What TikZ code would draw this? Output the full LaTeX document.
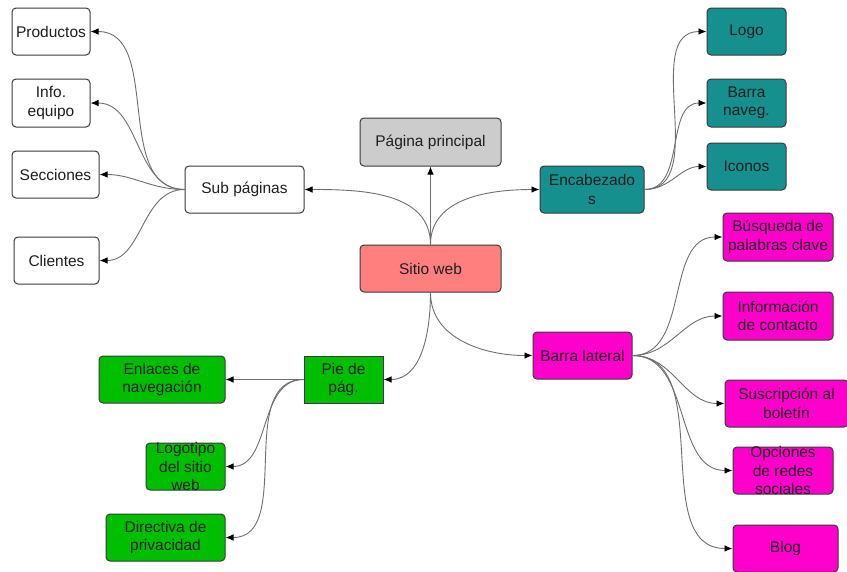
\documentclass[tikz,border=0pt]{standalone}
\usepackage{fontspec}
\setmainfont{Liberation Sans}
\usetikzlibrary{arrows.meta}
\definecolor{cgray}{HTML}{CCCCCC}
\definecolor{csalmon}{HTML}{FF7F7F}
\definecolor{cteal}{HTML}{15908F}
\definecolor{cmag}{HTML}{FF00CC}
\definecolor{cgreen}{HTML}{00BF00}
\definecolor{cline}{HTML}{6E6E6E}
\definecolor{cborder}{HTML}{3A3A3A}
\definecolor{ctext}{HTML}{1E1E1E}
\begin{document}
\begin{tikzpicture}[x=1pt,y=-1pt,
  box/.style={draw=cborder, line width=1pt, rounded corners=4pt, align=center,
    inner sep=1pt, text=ctext, font=\fontsize{15.5}{18.5}\selectfont},
  wbox/.style={box, fill=white},
  conn/.style={draw=cline, line width=0.9pt, -{Latex[length=8pt,width=6.5pt,color=black]}}
]
\useasboundingbox (0,0) rectangle (847,571);
% center
\node[box, fill=csalmon, minimum width=141pt, minimum height=47pt] (sitio) at (430.5,268.5) {Sitio web};
\node[box, fill=cgray, minimum width=141pt, minimum height=48pt] (pag) at (430.5,142) {Página principal};
% left
\node[wbox, minimum width=119pt, minimum height=47pt] (sub) at (244.5,189.5) {Sub páginas};
\node[wbox, minimum width=78pt, minimum height=47pt] (prod) at (51,31.5) {Productos};
\node[wbox, minimum width=78pt, minimum height=48pt] (info) at (51,103) {Info.\\equipo};
\node[wbox, minimum width=87pt, minimum height=47pt] (secc) at (55.5,174.5) {Secciones};
\node[wbox, minimum width=85pt, minimum height=47pt] (clie) at (56.5,260.5) {Clientes};
% header
\node[box, fill=cteal, minimum width=104pt, minimum height=47pt] (enc) at (592,189.5) {Encabezado\\s};
\node[box, fill=cteal, minimum width=79pt, minimum height=47pt] (logo) at (746.5,31.5) {Logo};
\node[box, fill=cteal, minimum width=79pt, minimum height=48pt] (barra) at (746.5,103) {Barra\\naveg.};
\node[box, fill=cteal, minimum width=79pt, minimum height=47pt] (icon) at (746.5,166.5) {Iconos};
% sidebar
\node[box, fill=cmag, minimum width=99pt, minimum height=47pt] (bl) at (582.5,355.5) {Barra lateral};
\node[box, fill=cmag, minimum width=110pt, minimum height=48pt] (busq) at (778,237) {Búsqueda de\\palabras clave};
\node[box, fill=cmag, minimum width=110pt, minimum height=48pt] (infoc) at (778,316) {Información\\de contacto};
\node[box, fill=cmag, minimum width=123pt, minimum height=47pt] (susc) at (786.5,403.5) {Suscripción al\\boletín};
\node[box, fill=cmag, minimum width=100pt, minimum height=47pt] (opc) at (783,470.5) {};
\node[text=ctext, font=\fontsize{15.5}{18.5}\selectfont, align=center] (opct) at (opc) {Opciones\\de redes\\sociales};
\node[box, fill=cmag, minimum width=105pt, minimum height=47pt] (blog) at (785.5,548.5) {Blog};
% footer
\node[box, rounded corners=0pt, fill=cgreen, minimum width=79pt, minimum height=47pt] (pie) at (343.5,379.5) {Pie de\\pág.};
\node[box, fill=cgreen, minimum width=126pt, minimum height=47pt] (enl) at (162,379.5) {Enlaces de\\navegación};
\node[box, fill=cgreen, minimum width=79pt, minimum height=47pt] (logot) at (185.5,466.5) {};
\node[text=ctext, font=\fontsize{15.5}{18.5}\selectfont, align=center] (logott) at (logot) {Logotipo\\del sitio\\web};
\node[box, fill=cgreen, minimum width=119pt, minimum height=47pt] (dir) at (165.5,537.5) {Directiva de\\privacidad};
% connectors
\draw[conn] (sitio.north) -- (pag.south);
\draw[conn] (sitio.north) to[out=90,in=0] (sub.east);
\draw[conn] (sitio.north) to[out=90,in=180] (enc.west);
\draw[conn] (sitio.south) to[out=-90,in=0] (pie.east);
\draw[conn] (sitio.south) to[out=-90,in=180] (bl.west);
\foreach \t in {prod,info,secc,clie} \draw[conn] (sub.west) to[out=180,in=0] (\t.east);
\foreach \t in {logo,barra,icon} \draw[conn] (enc.east) to[out=0,in=180] (\t.west);
\foreach \t in {busq,infoc,susc,opc,blog} \draw[conn] (bl.east) to[out=0,in=180] (\t.west);
\draw[conn] (pie.west) -- (enl.east);
\foreach \t in {logot,dir} \draw[conn] (pie.west) to[out=180,in=0] (\t.east);
\end{tikzpicture}
\end{document}
